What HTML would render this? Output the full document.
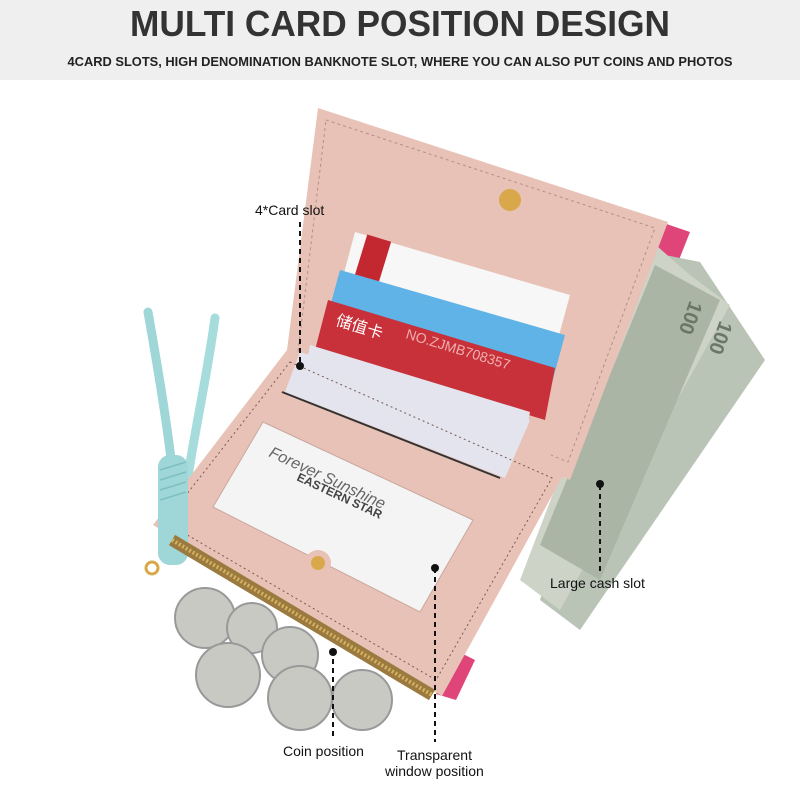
<!DOCTYPE html>
<html><head><meta charset="utf-8"><style>
html,body{margin:0;padding:0;background:#fff;}
svg{display:block}
text{font-family:"Liberation Sans",sans-serif;}
</style></head><body>
<svg width="800" height="800" viewBox="0 0 800 800" xmlns="http://www.w3.org/2000/svg">
<rect x="0" y="0" width="800" height="80" fill="#efefef"/>
<text x="400" y="36" text-anchor="middle" font-size="36" font-weight="bold" fill="#333" textLength="540" lengthAdjust="spacingAndGlyphs">MULTI CARD POSITION DESIGN</text>
<text x="400" y="66" text-anchor="middle" font-size="13" font-weight="bold" fill="#222" textLength="665" lengthAdjust="spacingAndGlyphs">4CARD SLOTS, HIGH DENOMINATION BANKNOTE SLOT, WHERE YOU CAN ALSO PUT COINS AND PHOTOS</text>

<path d="M148 312 C160 380 170 440 178 520" stroke="#9fd6d8" stroke-width="9" fill="none" stroke-linecap="round"/>
<path d="M215 318 C205 390 190 450 182 520" stroke="#a7dcdc" stroke-width="9" fill="none" stroke-linecap="round"/>

<polygon points="640,215 690,232 675,270 630,260" fill="#e0457a"/>
<polygon points="436,694 456,700 475,660 455,650" fill="#e0457a"/>
<polygon points="640,250 700,262 765,360 580,630 540,600" fill="#b9c3b6"/>
<polygon points="650,240 690,275 730,305 560,610 520,580" fill="#cdd4c7"/>
<polygon points="655,265 720,300 600,580 540,545" fill="#aab5a5"/>
<g fill="#6b7766" font-size="20" font-weight="bold">
<text transform="translate(690,300) rotate(110)">100</text>
<text transform="translate(720,320) rotate(110)">100</text>
</g>
<polygon points="318,108 668,222 570,480 287,350" fill="#e8c2b6"/>
<polygon points="326,120 655,228 568,462 298,352" fill="none" stroke="#b58f85" stroke-width="1" stroke-dasharray="3,3"/>
<circle cx="510" cy="200" r="11" fill="#d9a84a"/>
<polygon points="355,232 570,295 555,350 340,288" fill="#f7f7f7"/>
<rect x="360" y="237" width="25" height="45" fill="#c3272f" transform="rotate(17 372 260)"/>
<polygon points="340,270 565,335 550,390 325,325" fill="#5fb3e6"/>
<polygon points="328,300 555,368 545,420 315,350" fill="#c8303a"/>
<text transform="translate(335,325) rotate(17)" fill="#fff" font-size="16" font-family="'Noto Sans CJK SC',sans-serif">储值卡</text>
<text transform="translate(405,338) rotate(17)" fill="#f0b0b0" font-size="14">NO.ZJMB708357</text>
<polygon points="310,345 530,412 520,465 300,400" fill="#e4e4ee"/>
<polygon points="287,350 300,352 530,430 565,472 442,696 153,525" fill="#e8c2b6"/>
<polygon points="300,352 530,420 505,478 285,392" fill="#e4e4ee"/>
<polygon points="290,362 552,478 436,680 165,522" fill="none" stroke="#7a5a52" stroke-dasharray="2,3"/>
<line x1="282" y1="392" x2="500" y2="478" stroke="#333" stroke-width="2"/>
<polygon points="263,422 473,520 420,612 213,507" fill="#f4f4f4" stroke="#c9a79f"/>
<text transform="translate(268,456) rotate(25)" font-size="16" font-style="italic" fill="#666">Forever Sunshine</text>
<text transform="translate(296,480) rotate(25)" font-size="12" font-weight="bold" fill="#444">EASTERN STAR</text>
<circle cx="318" cy="563" r="13" fill="#e8c2b6"/>
<circle cx="318" cy="563" r="7" fill="#d9a84a"/>
<rect x="158" y="455" width="30" height="110" rx="12" fill="#9fd6d8"/>
<g stroke="#7fbfc0" stroke-width="1.5">
<line x1="160" y1="470" x2="186" y2="462"/><line x1="160" y1="480" x2="186" y2="472"/>
<line x1="160" y1="490" x2="186" y2="482"/><line x1="160" y1="500" x2="186" y2="492"/>
</g>
<circle cx="152" cy="568" r="6" fill="none" stroke="#d9a84a" stroke-width="3"/>
<path d="M172 540 L432 695" stroke="#9a7a3e" stroke-width="12"/>
<path d="M172 540 L432 695" stroke="#d4b060" stroke-width="4" stroke-dasharray="2,2"/>
<g fill="#c9c9c4" stroke="#999" stroke-width="2">
<circle cx="205" cy="618" r="30"/>
<circle cx="252" cy="628" r="25"/>
<circle cx="228" cy="675" r="32"/>
<circle cx="290" cy="655" r="28"/>
<circle cx="300" cy="698" r="32"/>
<circle cx="362" cy="700" r="30"/>
</g>
<g stroke="#111" stroke-width="2" stroke-dasharray="5,4" fill="none">
<line x1="300" y1="222" x2="300" y2="365"/>
<line x1="600" y1="485" x2="600" y2="575"/>
<line x1="333" y1="650" x2="333" y2="740"/>
<line x1="435" y1="568" x2="435" y2="742"/>
</g>
<g fill="#111">
<circle cx="300" cy="366" r="4"/><circle cx="600" cy="484" r="4"/>
<circle cx="333" cy="652" r="4"/><circle cx="435" cy="568" r="4"/>
</g>
<g fill="#111" font-size="14">
<text x="255" y="215">4*Card slot</text>
<text x="550" y="588">Large cash slot</text>
<text x="283" y="756">Coin position</text>
<text x="397" y="760">Transparent</text>
<text x="385" y="776">window position</text>
</g>
</svg>
</body></html>
